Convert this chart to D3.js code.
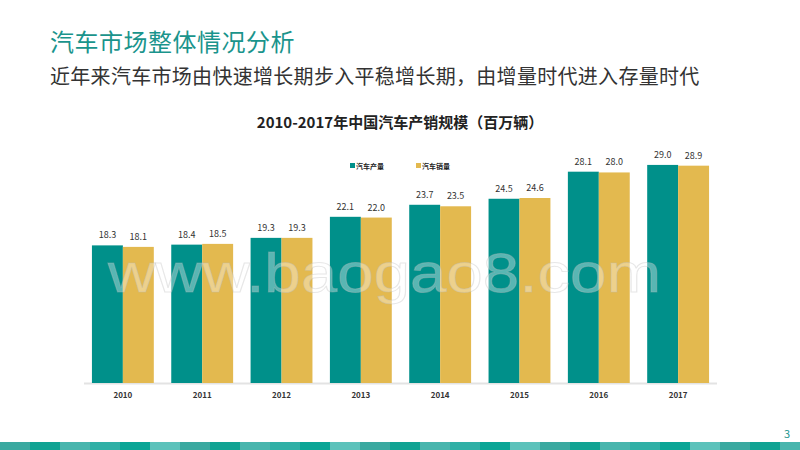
<!DOCTYPE html><html><head><meta charset="utf-8"><script src="https://cdn.jsdelivr.net/npm/d3@7"></script>
<style>body{margin:0;background:#fff}svg{display:block}</style></head><body><svg width="800" height="450"></svg>
<script>
const years=["2010","2011","2012","2013","2014","2015","2016","2017"];
const production=[18.3,18.4,19.3,22.1,23.7,24.5,28.1,29.0];
const sales=[18.1,18.5,19.3,22.0,23.5,24.6,28.0,28.9];
const seriesNames=["汽车产量","汽车销量"];
const colors=["#00908a","#e3b94f"];
const font="'Noto Sans CJK SC','Noto Sans',sans-serif";
const svg=d3.select("svg");
svg.append("text").attr("x",50).attr("y",51).attr("font-family",font).attr("font-size",24).attr("letter-spacing",0.5).attr("fill","#1a948c").text("汽车市场整体情况分析");
svg.append("text").attr("x",50).attr("y",84).attr("font-family",font).attr("font-size",20).attr("letter-spacing",0.3).attr("fill","#333").text("近年来汽车市场由快速增长期步入平稳增长期，由增量时代进入存量时代");
svg.append("text").attr("x",400).attr("y",128).attr("text-anchor","middle").attr("font-family",font).attr("font-size",15).attr("font-weight","bold").attr("fill","#222").text("2010-2017年中国汽车产销规模（百万辆）");
const x=d3.scaleBand().domain(years).range([84,717]).paddingInner(0.22).paddingOuter(0.1);
const x1=d3.scaleBand().domain([0,1]).range([0,x.bandwidth()]);
const y=d3.scaleLinear().domain([0,30]).range([383,157.4]);
svg.append("line").attr("x1",84).attr("x2",717).attr("y1",383.5).attr("y2",383.5).attr("stroke","#e3e3e3").attr("stroke-width",2);
[production,sales].forEach((s,i)=>{
 const g=svg.append("g");
 g.selectAll("rect").data(s).join("rect").attr("x",(d,j)=>x(years[j])+x1(i)).attr("width",x1.bandwidth()).attr("y",d=>y(d)).attr("height",d=>y(0)-y(d)).attr("fill",colors[i]);
 g.selectAll("text").data(s).join("text").attr("x",(d,j)=>x(years[j])+x1(i)+x1.bandwidth()/2).attr("y",d=>y(d)-7).attr("text-anchor","middle").attr("font-family",font).attr("font-size",9).attr("fill","#333").text(d=>d.toFixed(1));
});
svg.append("g").selectAll("text").data(years).join("text").attr("x",d=>x(d)+x.bandwidth()/2).attr("y",398).attr("text-anchor","middle").attr("font-family",font).attr("font-size",8).attr("font-weight","bold").attr("fill","#333").text(d=>d);
seriesNames.forEach((n,i)=>{
 const lx=350+i*66;
 svg.append("rect").attr("x",lx).attr("y",163).attr("width",5).attr("height",5).attr("fill",colors[i]);
 svg.append("text").attr("x",lx+6).attr("y",168.5).attr("font-family",font).attr("font-size",7).attr("font-weight","bold").attr("fill","#222").text(n);
});
svg.append("text").attr("x",108).attr("y",292).attr("textLength",553).attr("lengthAdjust","spacingAndGlyphs").attr("font-family","Arial,'Liberation Sans',sans-serif").attr("font-size",55).attr("fill","#ffffff").attr("fill-opacity",0.35).attr("stroke","#bbb").attr("stroke-opacity",0.35).text("www.baogao8.com");
const stripe=d3.range(0,800,30);
svg.append("g").selectAll("rect").data(stripe).join("rect").attr("x",d=>d).attr("y",442).attr("width",30).attr("height",8).attr("fill",(d,i)=>["#3aa9a0","#10a393","#48b5ad","#2fb0a6","#0aa596","#5cc2bb"][i%6]);
svg.append("text").attr("x",790).attr("y",438).attr("text-anchor","end").attr("font-family",font).attr("font-size",11).attr("fill","#1a948c").text("3");
</script></body></html>
